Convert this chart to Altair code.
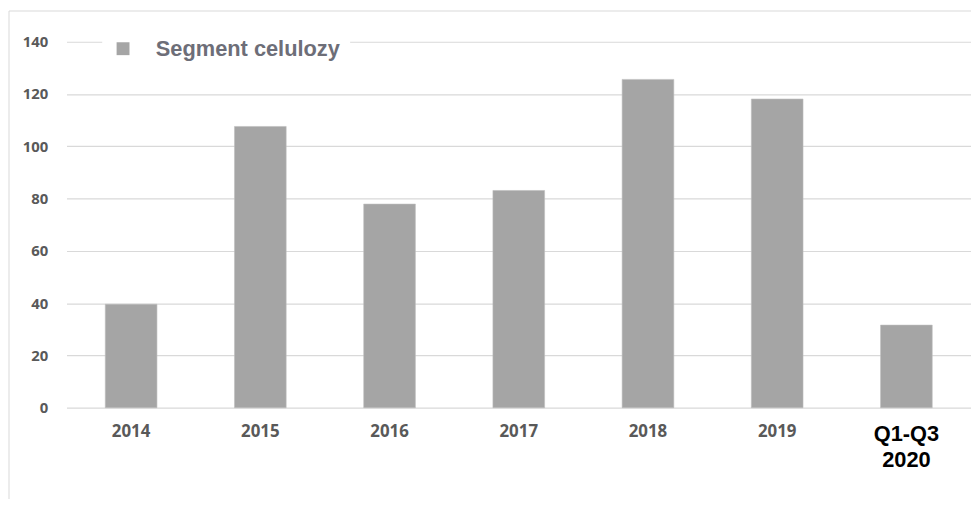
import altair as alt
import pandas as pd

categories = ["2014", "2015", "2016", "2017", "2018", "2019", "Q1-Q3 2020"]
values = [39.6, 107.6, 77.9, 83.1, 125.6, 118.1, 31.6]
series_name = "Segment celulozy"
y_ticks = [0, 20, 40, 60, 80, 100, 120, 140]

df = pd.DataFrame({"cat": categories, "val": values, "series": [series_name] * len(categories)})

W, H = 912, 369

bars = alt.Chart(df).mark_bar(stroke="#bdbdbd", strokeWidth=0.6).encode(
    x=alt.X("cat:N", sort=categories, title=None,
            scale=alt.Scale(paddingInner=0.6, paddingOuter=0.3),
            axis=alt.Axis(
                labelAngle=0, ticks=False, domain=False, grid=False,
                labelPadding=16, labelBaseline="top",
                labelExpr="datum.value == 'Q1-Q3 2020' ? ['Q1-Q3', '2020'] : datum.label",
                labelFont=alt.expr("datum.value == 'Q1-Q3 2020' ? 'Liberation Sans' : 'Open Sans'"),
                labelFontSize=alt.expr("datum.value == 'Q1-Q3 2020' ? 22 : 17"),
                labelColor=alt.expr("datum.value == 'Q1-Q3 2020' ? '#000000' : '#595959'"),
                labelFontWeight="bold", labelLineHeight=26, labelLimit=200)),
    y=alt.Y("val:Q", title=None,
            scale=alt.Scale(domain=[0, 140], nice=False),
            axis=alt.Axis(values=y_ticks, ticks=False, domain=False,
                          gridColor="#d9d9d9", gridWidth=1.2,
                          labelFont="Open Sans", labelFontSize=15, labelFontWeight="bold",
                          labelColor="#595959", labelPadding=19)),
    color=alt.Color("series:N", scale=alt.Scale(range=["#a5a5a5"]), title=None,
                    legend=alt.Legend(orient="none", legendX=36, legendY=-14,
                                      symbolType="square", symbolSize=169, symbolStrokeWidth=0,
                                      labelFont="Liberation Sans", labelFontSize=22,
                                      labelFontWeight="bold", labelColor="#6d6e78",
                                      labelOffset=22, labelLimit=400,
                                      fillColor="white", padding=10)),
)

frame = alt.Chart(pd.DataFrame({"a": [0]})).mark_rect(
    fill=None, stroke="#d9d9d9", strokeWidth=1
).encode(x=alt.value(-58), x2=alt.value(W + 40), y=alt.value(-31), y2=alt.value(H + 300))

chart = alt.layer(frame, bars).properties(
    width=W, height=H,
    autosize=alt.AutoSizeParams(type="none"),
    padding={"left": 59, "top": 32, "right": 0, "bottom": 90},
    background="white",
).configure_view(stroke=None)

chart.save("out.html", embed_options={"renderer": "svg", "actions": False})
